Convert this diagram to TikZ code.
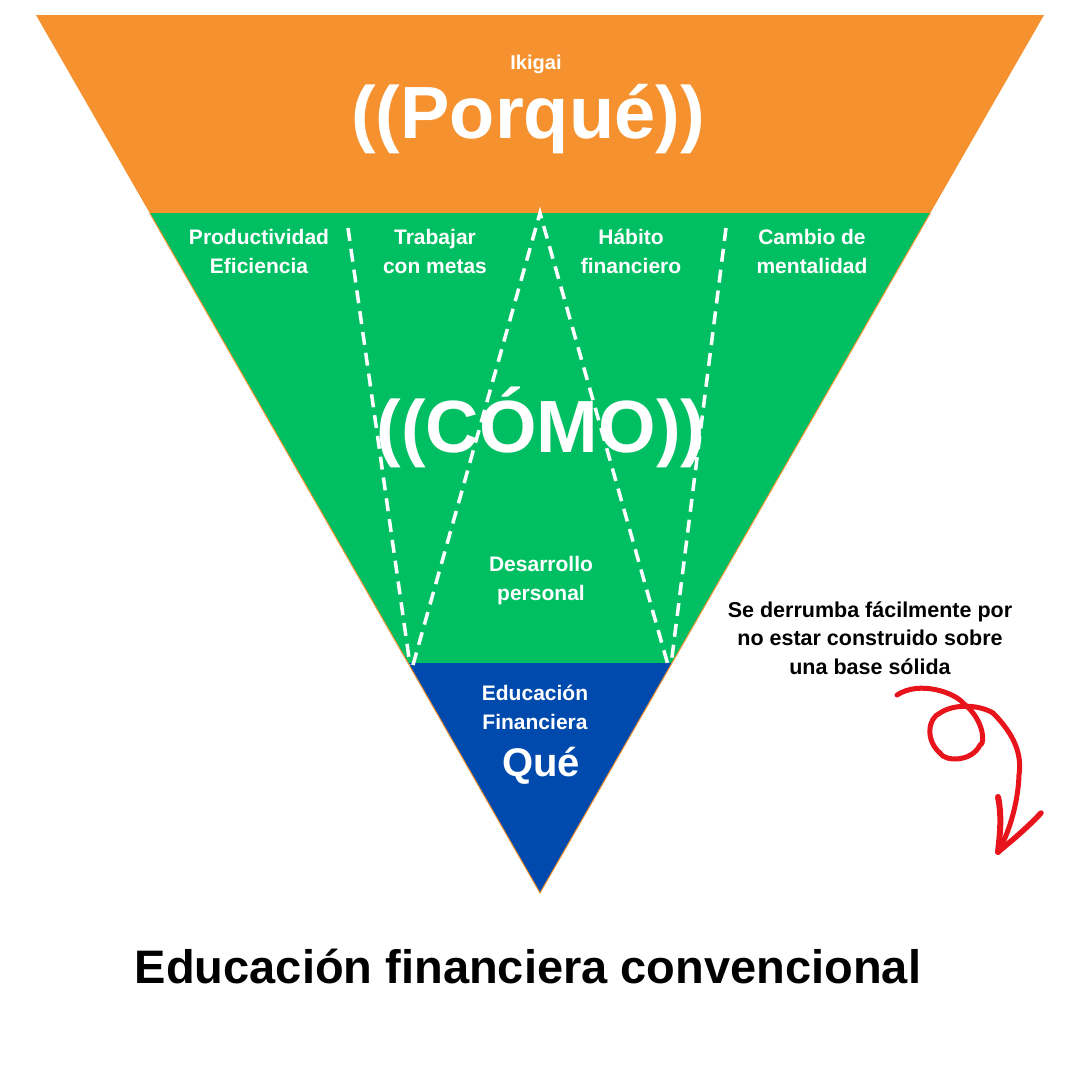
\documentclass[tikz,border=0pt]{standalone}
\usepackage{fontspec}
\setmainfont{Liberation Sans}
\definecolor{orangeT}{HTML}{F5922F}
\definecolor{greenT}{HTML}{00BF63}
\definecolor{blueT}{HTML}{004AAD}
\definecolor{redA}{HTML}{E8141B}
\tikzset{
  lbl/.style={text=white, font=\bfseries\fontsize{21}{28.5}\selectfont, align=center, inner sep=0pt, anchor=base},
  big/.style={text=white, font=\bfseries\fontsize{74}{80}\selectfont, inner sep=0pt, anchor=base},
  divider/.style={white, line width=3.5pt, dash pattern=on 13pt off 8pt},
  redstroke/.style={redA, line width=5pt, line cap=round, line join=round},
}
\begin{document}
\begin{tikzpicture}[x=1pt,y=-1pt]
\useasboundingbox[fill=white] (0,0) rectangle (1080,1080);
% corners
\coordinate (TL) at (36,15);
\coordinate (TR) at (1044,15);
\coordinate (A) at (540,893);
\coordinate (OL) at (149.7,213);
\coordinate (OR) at (930.3,213);
\coordinate (GL) at (408,663);
\coordinate (GR) at (672,663);
% bands
\fill[orangeT] (TL) -- (TR) -- (OR) -- (OL) -- cycle;
\fill[greenT] (OL) -- (OR) -- (GR) -- (GL) -- cycle;
\fill[blueT] (GL) -- (GR) -- (A) -- cycle;
\draw[orangeT, line width=1pt] (OL) -- (A) -- (OR);
% dividers
\coordinate (V) at (540,213);
\coordinate (d1a) at (348,228);
\coordinate (d1b) at (410,665);
\coordinate (d2b) at (413,665);
\coordinate (d3b) at (668,665);
\coordinate (d4a) at (726,228);
\coordinate (d4b) at (671,665);
\draw[divider] (d1a) -- (d1b);
\draw[divider] (d2b) -- (V) -- (d3b);
\draw[divider] (d4a) -- (d4b);
% texts
\node[lbl, font=\bfseries\fontsize{20}{24}\selectfont] (ikigai) at (536,69) {Ikigai};
\node[big] (porque) at (528,138) {((Porqué))};
\node[big] (como) at (541,452) {((CÓMO))};
\node[lbl] (prod) at (259,273) {Productividad\\Eficiencia};
\node[lbl] (trab) at (435,273) {Trabajar\\con metas};
\node[lbl] (habi) at (631,273) {Hábito\\financiero};
\node[lbl] (camb) at (812,273) {Cambio de\\mentalidad};
\node[lbl] (desa) at (541,600) {Desarrollo\\personal};
\node[lbl] (educ) at (535,729) {Educación\\Financiera};
\node[lbl, font=\bfseries\fontsize{40}{44}\selectfont] (que) at (541,776) {Qué};
\node[lbl, text=black, font=\bfseries\fontsize{21.5}{28.5}\selectfont] (nota) at (870,674) {Se derrumba fácilmente por\\no estar construido sobre\\una base sólida};
\node[lbl, text=black, font=\bfseries\fontsize{47}{52}\selectfont] (title) at (528,983) {Educación financiera convencional};
% red arrow
\coordinate (r0) at (897,695);
\coordinate (r1) at (963,703);
\coordinate (r2) at (980,745);
\coordinate (r3) at (940,753);
\coordinate (r4) at (940,713);
\coordinate (r5) at (993,713);
\coordinate (r6) at (1019,775);
\coordinate (tip) at (998,852);
\coordinate (hl) at (998,797);
\coordinate (hr) at (1041,813);
\draw[redstroke] (r0) .. controls (920,680) and (955,693) .. (r1)
  .. controls (985,720) and (985,745) .. (r2)
  .. controls (972,762) and (945,762) .. (r3)
  .. controls (925,740) and (928,718) .. (r4)
  .. controls (955,703) and (980,705) .. (r5)
  .. controls (1015,735) and (1022,755) .. (r6)
  .. controls (1018,805) and (1008,835) .. (tip);
\draw[redstroke, line width=6pt] (hl) .. controls (1002,815) and (1000,835) .. (tip);
\draw[redstroke, line width=5.5pt] (hr) .. controls (1025,830) and (1010,842) .. (tip);
\end{tikzpicture}
\end{document}
